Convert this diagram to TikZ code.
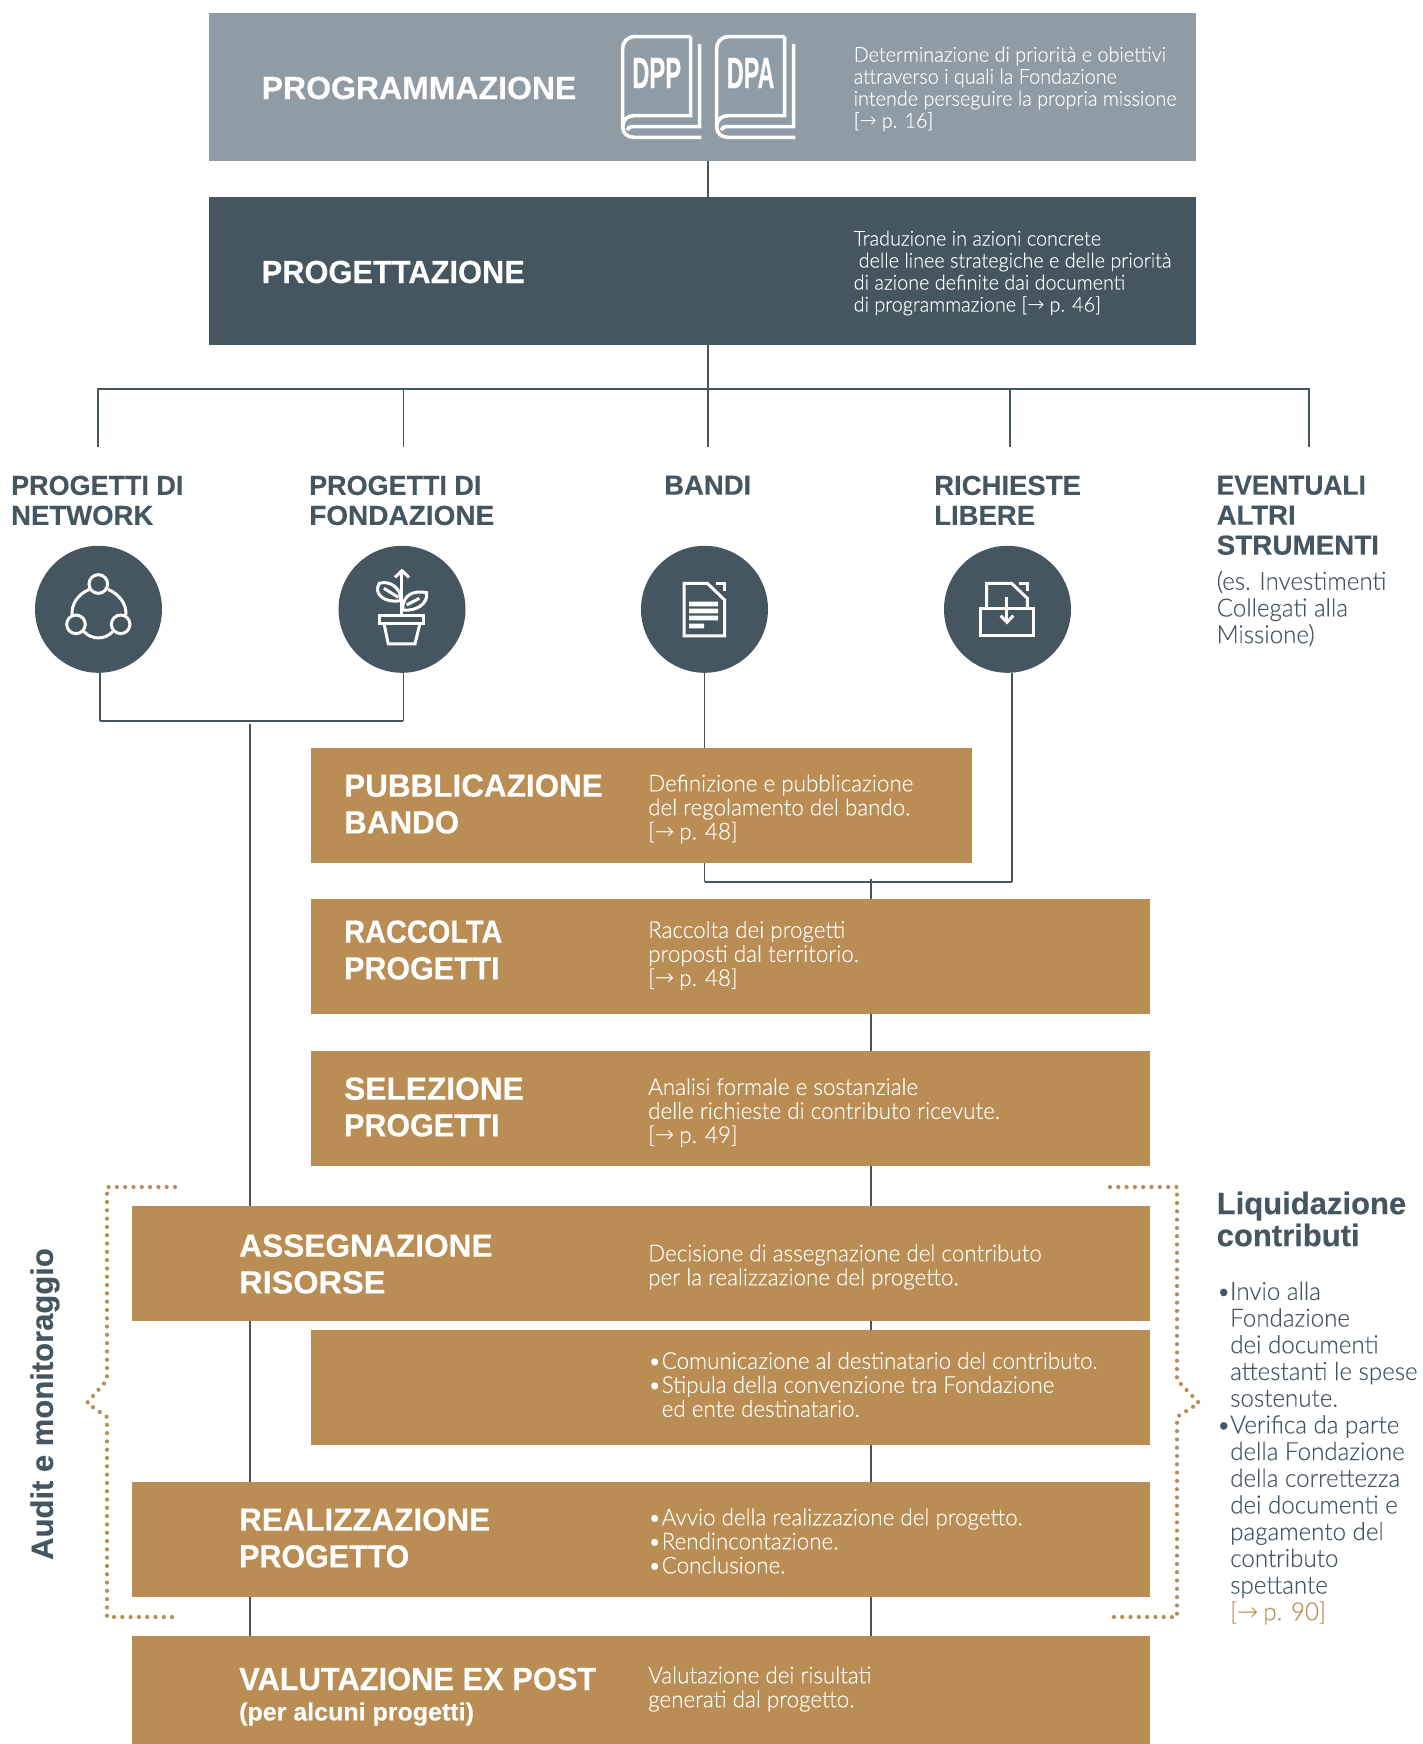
\documentclass[tikz,border=0pt]{standalone}
\usepackage{fontspec}
\setmainfont[BoldFeatures={FakeBold=0.3}]{Liberation Sans}
\newfontfamily\lightf[FakeStretch=0.965,FakeBold=0.12]{Lato Light}
\newfontfamily\arfont{DejaVu Sans ExtraLight}
\usetikzlibrary{backgrounds}
\definecolor{slate}{HTML}{465661}
\definecolor{greyb}{HTML}{8F9CA6}
\definecolor{tan}{HTML}{BA8D55}
\newcommand{\ar}{{\arfont →}\hspace{5pt}}
\newcommand{\sx}[2]{\scalebox{#1}[1]{#2}}
\newcommand{\bu}{\makebox[13.5pt][l]{•}}
\newcommand{\ind}{\hspace*{13.5pt}}
\tikzset{
  x=1pt,y=-1pt,
  bx/.style={rectangle,draw=none,inner sep=0,outer sep=0,anchor=north west},
  tanbox/.style={bx,fill=tan},
  conn/.style={draw=slate,line width=1.4pt},
  connb/.style={draw=slate,line width=2.4pt},
  disc/.style={circle,fill=slate,inner sep=0,outer sep=0,minimum size=127pt},
  ico/.style={draw=white,line width=3pt,line join=miter},
  dots/.style={draw=tan,line width=4.2pt,line cap=round,dash pattern=on 0pt off 8.3pt},
  hw/.style={font=\fontsize{32}{36.7}\selectfont\bfseries,text=white,align=left,anchor=west,inner sep=0},
  hs/.style={font=\fontsize{27.5}{30}\selectfont\bfseries,text=slate,align=left,anchor=north west,inner sep=0},
  bw/.style={font=\fontsize{23.2}{24}\selectfont\lightf,text=white,align=left,anchor=west,inner sep=0},
  bt/.style={font=\fontsize{20.5}{22}\selectfont\lightf,text=white,align=left,anchor=west,inner sep=0},
  bs/.style={font=\fontsize{25}{26.7}\selectfont\lightf,text=slate,align=left,anchor=north west,inner sep=0},
  lq/.style={font=\fontsize{31}{32}\selectfont\bfseries,text=slate,align=left,anchor=north west,inner sep=0},
}
\begin{document}
\begin{tikzpicture}
\useasboundingbox (0,0) rectangle (1423,1744);
% boxes
\node[bx,fill=greyb,minimum width=987pt,minimum height=148pt] (prog) at (209,13) {};
\node[bx,fill=slate,minimum width=987pt,minimum height=148pt] (proj) at (209,197) {};
\node[tanbox,minimum width=660.5pt,minimum height=115pt] (pub) at (311,748) {};
\node[tanbox,minimum width=838.5pt,minimum height=115pt] (rac) at (311,899) {};
\node[tanbox,minimum width=838.5pt,minimum height=115pt] (sel) at (311,1051) {};
\node[tanbox,minimum width=1017.5pt,minimum height=115pt] (ass) at (132,1206) {};
\node[tanbox,minimum width=838.5pt,minimum height=115pt] (com) at (311,1330) {};
\node[tanbox,minimum width=1017.5pt,minimum height=115pt] (rea) at (132,1482) {};
\node[tanbox,minimum width=1017.5pt,minimum height=108pt] (val) at (132,1636) {};
% discs
\node[disc] (c1) at (98.5,609.3) {};
\node[disc] (c2) at (402,609.3) {};
\node[disc] (c3) at (704.5,609.3) {};
\node[disc] (c4) at (1007.5,609.3) {};
% junctions
\coordinate (hy) at (0,389);
\coordinate (t1) at (98,447);
\coordinate (t2) at (403.3,447);
\coordinate (t3) at (708,447);
\coordinate (t4) at (1010,447);
\coordinate (t5) at (1309,447);
\coordinate (m1) at (100,721);
\coordinate (m2) at (403.3,721);
\coordinate (left) at (250,723.5);
\coordinate (b3) at (704.5,882);
\coordinate (b4) at (1012,882);
\coordinate (ctr) at (871,879);
\begin{scope}[on background layer]
\draw[conn] (t3|-prog.south) -- (t3|-proj.north);
\draw[conn] (t3|-proj.south) -- (t3);
\draw[conn] (t1) |- (t1|-hy) -- (t5|-hy) -- (t5);
\draw[conn] (t2|-hy) -- (t2);
\draw[conn] (t4|-hy) -- (t4);
\draw[conn] (m1|-c1.south) -- (m1);
\draw[conn] (m2|-c2.south) -- (m2);
\draw[connb] (m1) -- (m2);
\draw[conn] (left) -- (left|-val.north);
\draw[conn] (c3.south) -- (c3.south|-pub.north);
\draw[conn] (b3|-pub.south) -- (b3);
\draw[conn] (b4|-c4.south) -- (b4);
\draw[connb] (b3) -- (b4);
\draw[conn] (ctr) -- (ctr|-val.north);
\end{scope}
% dotted brackets
\coordinate (dl1) at (175,1187);\coordinate (dl2) at (107,1187);\coordinate (dl3) at (107,1380);
\coordinate (dl4) at (87,1403);\coordinate (dl5) at (107,1417);\coordinate (dl6) at (107,1617);\coordinate (dl7) at (175,1617);
\coordinate (dr1) at (1110,1187);\coordinate (dr2) at (1177,1187);\coordinate (dr3) at (1177,1380);
\coordinate (dr4) at (1199,1403);\coordinate (dr5) at (1177,1417);\coordinate (dr6) at (1177,1617);\coordinate (dr7) at (1110,1617);
\draw[dots] (dl1) -- (dl2) -- (dl3) -- (dl4) -- (dl5) -- (dl6) -- (dl7);
\draw[dots] (dr1) -- (dr2) -- (dr3) -- (dr4) -- (dr5) -- (dr6) -- (dr7);
% headings
\node[hw] (tprog) at (261.5,88) {PROGRAMMAZIONE};
\node[hw] (tproj) at (261.5,272) {\sx{0.963}{PROGETTAZIONE}};
\node[bt] (dprog) at (853.5,89) {Determinazione di priorità e obiettivi\\attraverso i quali la Fondazione\\intende perseguire la propria missione\\{[}\ar p. 16{]}};
\node[bt] (dproj) at (853.5,273) {Traduzione in azioni concrete\\\hspace*{5pt}delle linee strategiche e delle priorità\\di azione definite dai documenti\\di programmazione {[}\ar p. 46{]}};
\node[hs] (l1) at (11,475.5) {\sx{0.98}{PROGETTI DI}\\NETWORK};
\node[hs] (l2) at (309,475.5) {\sx{0.98}{PROGETTI DI}\\\sx{1.018}{FONDAZIONE}};
\node[hs] (l3) at (664,475.5) {BANDI};
\node[hs] (l4) at (934,475.5) {RICHIESTE\\LIBERE};
\node[hs] (l5) at (1216.5,475.5) {\sx{0.957}{EVENTUALI}\\ALTRI\\\sx{1.012}{STRUMENTI}};
\node[bs] (l5b) at (1216.5,570.5) {(es. Investimenti\\Collegati alla\\Missione)};
% tan texts
\node[hw] (h1) at (344,804) {\sx{0.983}{PUBBLICAZIONE}\\\sx{0.98}{BANDO}};
\node[bw] (d1) at (648,809) {Definizione e pubblicazione\\del regolamento del bando.\\{[}\ar p. 48{]}};
\node[hw] (h2) at (344,950) {\sx{0.905}{RACCOLTA}\\\sx{0.95}{PROGETTI}};
\node[bw] (d2) at (648,955.5) {Raccolta dei progetti\\proposti dal territorio.\\{[}\ar p. 48{]}};
\node[hw] (h3) at (344,1107) {\sx{0.99}{SELEZIONE}\\\sx{0.95}{PROGETTI}};
\node[bw] (d3) at (648,1112.5) {Analisi formale e sostanziale\\delle richieste di contributo ricevute.\\{[}\ar p. 49{]}};
\node[hw] (h4) at (239,1264) {\sx{0.99}{ASSEGNAZIONE}\\\sx{1.015}{RISORSE}};
\node[bw] (d4) at (648,1267) {Decisione di assegnazione del contributo\\per la realizzazione del progetto.};
\node[bw] (d5) at (648,1384.5) {\bu Comunicazione al destinatario del contributo.\\\bu Stipula della convenzione tra Fondazione\\\ind ed ente destinatario.};
\node[hw] (h6) at (239,1538) {\sx{0.98}{REALIZZAZIONE}\\\sx{0.95}{PROGETTO}};
\node[bw] (d6) at (648,1541) {\bu Avvio della realizzazione del progetto.\\\bu Rendincontazione.\\\bu Conclusione.};
\node[hw] (h7) at (239,1679) {\sx{0.964}{VALUTAZIONE EX POST}};
\node[hw,font=\fontsize{25}{26}\selectfont\bfseries] (h7b) at (239,1714) {(per alcuni progetti)};
\node[bw] (d7) at (648,1689) {Valutazione dei risultati\\generati dal progetto.};
\node[font=\fontsize{31}{31}\selectfont\bfseries,text=slate,rotate=90,inner sep=0] (aud) at (45,1404) {Audit e monitoraggio};
\node[lq] (lq) at (1216.5,1191.5) {Liquidazione\\contributi};
\node[bs] (lq2) at (1216.5,1281.5) {\bu Invio alla\\\ind Fondazione\\\ind dei documenti\\\ind attestanti le spese\\\ind sostenute.\\\bu Verifica da parte\\\ind della Fondazione\\\ind della correttezza\\\ind dei documenti e\\\ind pagamento del\\\ind contributo\\\ind spettante\\\ind \textcolor{tan}{{[}\ar p. 90{]}}};
% book icons
\foreach \dx/\lab/\sc/\nm in {0/DPP/0.54/b1,282/DPA/0.53/b2}{
\begin{scope}[shift={(610pt,-25pt)},x=0.3333pt,y=-0.3333pt,xshift=\dx*0.3333pt,ico/.append style={line width=3.6pt}]
\draw[ico] (242,35) -- (75,35) .. controls (52,35) and (38,50) .. (38,72) -- (38,305)
   .. controls (38,325) and (52,337) .. (72,337) -- (274,337);
\draw[ico] (242,35) -- (242,272) -- (72,272) .. controls (52,272) and (38,285) .. (38,305);
\draw[ico] (269,57) -- (269,305) -- (65,305) .. controls (58,305) and (54,309) .. (52,316);
\node[text=white,font=\fontsize{44}{44}\selectfont\bfseries,inner sep=0] (\nm) at (140,144) {\scalebox{\sc}[1]{\lab}};
\end{scope}}
% network icon
\begin{scope}[shift={(30pt,-540pt)},x=0.3333pt,y=-0.3333pt]
\draw[ico] (205,132) circle[radius=9.3pt];
\draw[ico] (138,253) circle[radius=9.3pt];
\draw[ico] (272,253) circle[radius=9.3pt];
\draw[ico] (178,148) .. controls (140,165) and (124,195) .. (126,226);
\draw[ico] (234,148) .. controls (272,165) and (290,195) .. (288,226);
\draw[ico] (162,275) .. controls (185,300) and (225,300) .. (248,275);
\draw[ico] (1050,226) rectangle (1182,250);
\draw[ico] (1062,250) -- (1075,312) -- (1155,312) -- (1170,250);
\draw[ico] (1116,100) -- (1116,226);
\draw[ico] (1095,112) -- (1116,92) -- (1137,112);
\draw[ico] (1112,182) .. controls (1060,190) and (1030,160) .. (1048,130) .. controls (1080,120) and (1115,145) .. (1112,182);
\draw[ico] (1062,145) -- (1105,172);
\draw[ico] (1118,208) .. controls (1118,165) and (1150,150) .. (1190,158) .. controls (1195,190) and (1160,215) .. (1118,210);
\draw[ico] (1130,195) -- (1168,175);
\end{scope}
% doc + inbox icons
\begin{scope}[shift={(639pt,-545pt)},x=0.3333pt,y=-0.3333pt]
\draw[ico] (135,115) -- (205,115) -- (257,165) -- (257,273) -- (135,273) -- cycle;
\draw[ico] (232,115) -- (257,115) -- (257,137);
\fill[white] (150,170) rectangle (237,184) (150,191) rectangle (237,205) (150,212) rectangle (237,226) (150,236) rectangle (195,250);
\draw[ico] (1043,190) -- (1043,115) -- (1118,115) -- (1165,160) -- (1165,190);
\draw[ico] (1140,115) -- (1167,115) -- (1167,137);
\draw[ico] (1024,192) rectangle (1185,273);
\draw[ico] (1104,155) -- (1104,228);
\draw[ico] (1085,212) -- (1104,232) -- (1123,212);
\end{scope}
\end{tikzpicture}
\end{document}
